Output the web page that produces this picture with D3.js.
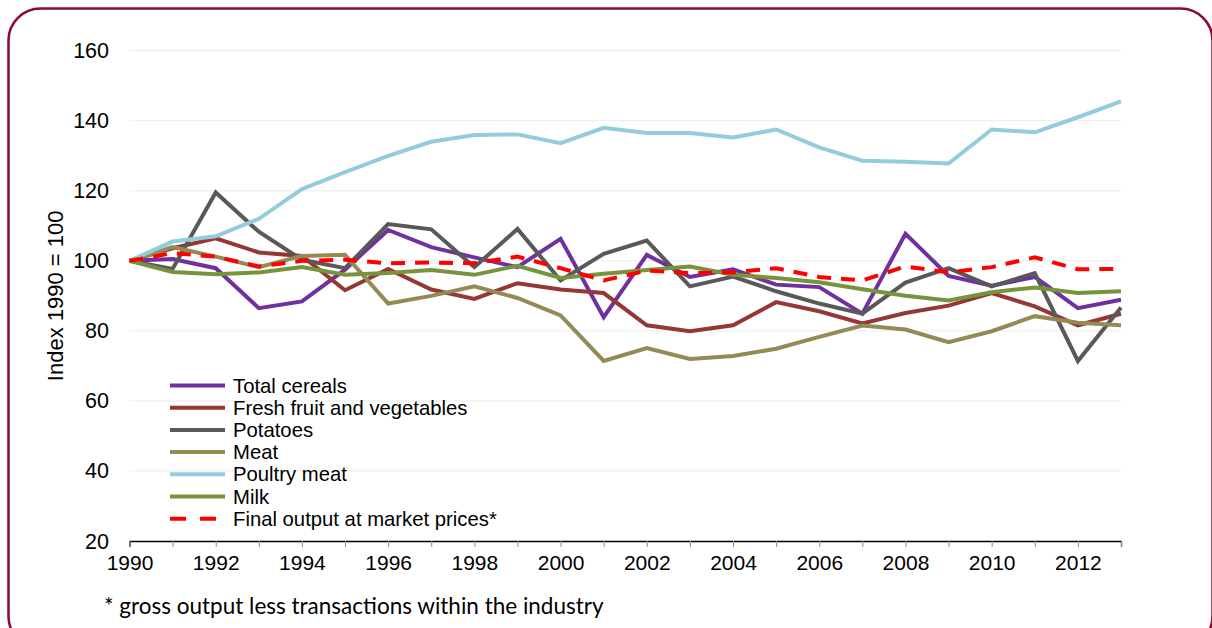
<!DOCTYPE html>
<html>
<head>
<meta charset="UTF-8">
<title>Index 1990 = 100</title>
<style>
  body { margin: 0; background: #fff; }
  svg { display: block; }
  text { font-family: "Liberation Sans", Arial, sans-serif; fill: #000; }
</style>
</head>
<body>
<svg></svg>
<script src="https://d3js.org/d3.v7.min.js"></script>
<script>

let width = 1212, height = 628;

// data
let years = d3.range(1990, 2014);
let cereals = [100, 100.5, 97.9, 86.5, 88.4, 97.5, 108.8, 103.9, 101, 98.2, 106.3, 83.9, 101.7, 95.4, 97.6, 93.2, 92.5, 84.9, 107.7, 95.7, 92.9, 95.4, 86.5, 88.9];
let fruitVeg = [100, 103.6, 106.4, 102.4, 101.4, 91.6, 97.7, 91.8, 89.1, 93.6, 91.8, 90.8, 81.6, 79.9, 81.6, 88.2, 85.6, 82.1, 85.1, 87.2, 90.8, 87.0, 81.6, 84.9];
let potatoes = [100, 97.7, 119.5, 108.3, 100.3, 97.9, 110.5, 109, 98.2, 109.1, 94.4, 102, 105.8, 92.7, 95.5, 91.3, 87.8, 84.9, 93.8, 97.9, 92.7, 96.5, 71.4, 86.7];
let meat = [100, 103.9, 101.2, 98.2, 101.4, 101.7, 87.8, 90.0, 92.7, 89.4, 84.4, 71.4, 75.1, 72.0, 72.8, 74.9, 78.3, 81.5, 80.4, 76.8, 79.9, 84.2, 82.3, 81.6];
let poultry = [100, 105.5, 107, 112, 120.5, 125.3, 130, 134, 135.9, 136.1, 133.6, 138.0, 136.5, 136.5, 135.2, 137.5, 132.4, 128.6, 128.3, 127.8, 137.5, 136.7, 141, 145.5];
let milk = [100, 96.8, 96.2, 96.7, 98.2, 96.0, 96.5, 97.4, 96.0, 98.6, 95.1, 96.3, 97.4, 98.4, 96.0, 95.1, 93.9, 91.9, 90.0, 88.7, 91.0, 92.4, 90.8, 91.3];
let finalOutput = [100, 102.2, 101.2, 98.4, 100, 100.3, 99.3, 99.5, 99.3, 101.2, 97.9, 94.4, 97.2, 96.5, 96.7, 97.9, 95.4, 94.4, 98.4, 96.7, 98.2, 101.0, 97.6, 97.7];

let yTicks = [20, 40, 60, 80, 100, 120, 140, 160];
let xTicks = d3.range(1990, 2013, 2);

let series = [
  {name: "Total cereals", values: cereals, color: "#7030a0"},
  {name: "Fresh fruit and vegetables", values: fruitVeg, color: "#953735"},
  {name: "Potatoes", values: potatoes, color: "#595959"},
  {name: "Meat", values: meat, color: "#948a54"},
  {name: "Poultry meat", values: poultry, color: "#93cddd"},
  {name: "Milk", values: milk, color: "#77933c"},
  {name: "Final output at market prices*", values: finalOutput, color: "#ff0000", dash: "14,10"}
];

let svg = d3.select("svg")
    .attr("width", width)
    .attr("height", height);

// rounded frame
svg.append("rect")
    .attr("x", 8.5).attr("y", 8.5)
    .attr("width", 1204).attr("height", 640)
    .attr("rx", 32).attr("ry", 32)
    .attr("fill", "none")
    .attr("stroke", "#8b0a2e")
    .attr("stroke-width", 2.5);

let x = d3.scaleLinear().domain([1990, 2013]).range([129.5, 1121]);
let y = d3.scaleLinear().domain([20, 160]).range([541, 50.7]);

// gridlines
svg.append("g")
    .selectAll("line")
    .data(yTicks.slice(1))
    .enter()
    .append("line")
    .attr("x1", x(1990)).attr("x2", x(2013))
    .attr("y1", d => y(d)).attr("y2", d => y(d))
    .attr("stroke", "#ececec")
    .attr("stroke-width", 1);

// y labels
svg.append("g")
    .selectAll("text")
    .data(yTicks)
    .enter()
    .append("text")
    .attr("x", 109)
    .attr("y", d => y(d) + 7.5)
    .attr("text-anchor", "end")
    .style("font-size", "21.5px")
    .text(d => d);

svg.append("text")
    .attr("transform", "translate(63," + y(90) + ") rotate(-90)")
    .attr("text-anchor", "middle")
    .style("font-size", "22px")
    .text("Index 1990 = 100");

// x axis
let xAxis = d3.axisBottom(x)
    .tickValues(d3.range(1990, 2014))
    .tickSize(6)
    .tickPadding(5)
    .tickFormat(d => xTicks.includes(d) ? d : "");

let gx = svg.append("g")
    .attr("transform", "translate(0," + y(20) + ")")
    .call(xAxis);
gx.select(".domain").attr("stroke", "#000").attr("stroke-width", 1.3);
gx.selectAll(".tick line").attr("stroke", "#8c8c8c");
gx.selectAll(".tick text")
    .attr("dy", "0.85em")
    .style("font-family", "'Liberation Sans', Arial, sans-serif")
    .style("font-size", "21px")
    .attr("fill", "#000");

// lines
let line = d3.line()
    .x((d, i) => x(years[i]))
    .y(d => y(d));

svg.append("g")
    .selectAll("path")
    .data(series)
    .enter()
    .append("path")
    .attr("d", d => line(d.values))
    .attr("fill", "none")
    .attr("stroke", d => d.color)
    .attr("stroke-width", 4)
    .attr("stroke-linejoin", "miter")
    .attr("stroke-dasharray", d => d.dash || null);

// legend
let legend = svg.append("g")
    .selectAll("g")
    .data(series)
    .enter()
    .append("g")
    .attr("transform", (d, i) => "translate(170," + (385.5 + i * 22.2) + ")");

legend.append("line")
    .attr("x1", 0).attr("x2", 55)
    .attr("stroke", d => d.color)
    .attr("stroke-width", 4)
    .attr("stroke-dasharray", d => d.dash ? "16,14" : null);

legend.append("text")
    .attr("x", 63)
    .attr("y", 7)
    .style("font-size", "20.3px")
    .text(d => d.name);

// footnote
svg.append("text")
    .attr("x", 104)
    .attr("y", 614)
    .style("font-family", "Lato, 'Open Sans', sans-serif")
    .style("font-size", "22.5px")
    .text("* gross output less transactions within the industry");

</script>
</body>
</html>
